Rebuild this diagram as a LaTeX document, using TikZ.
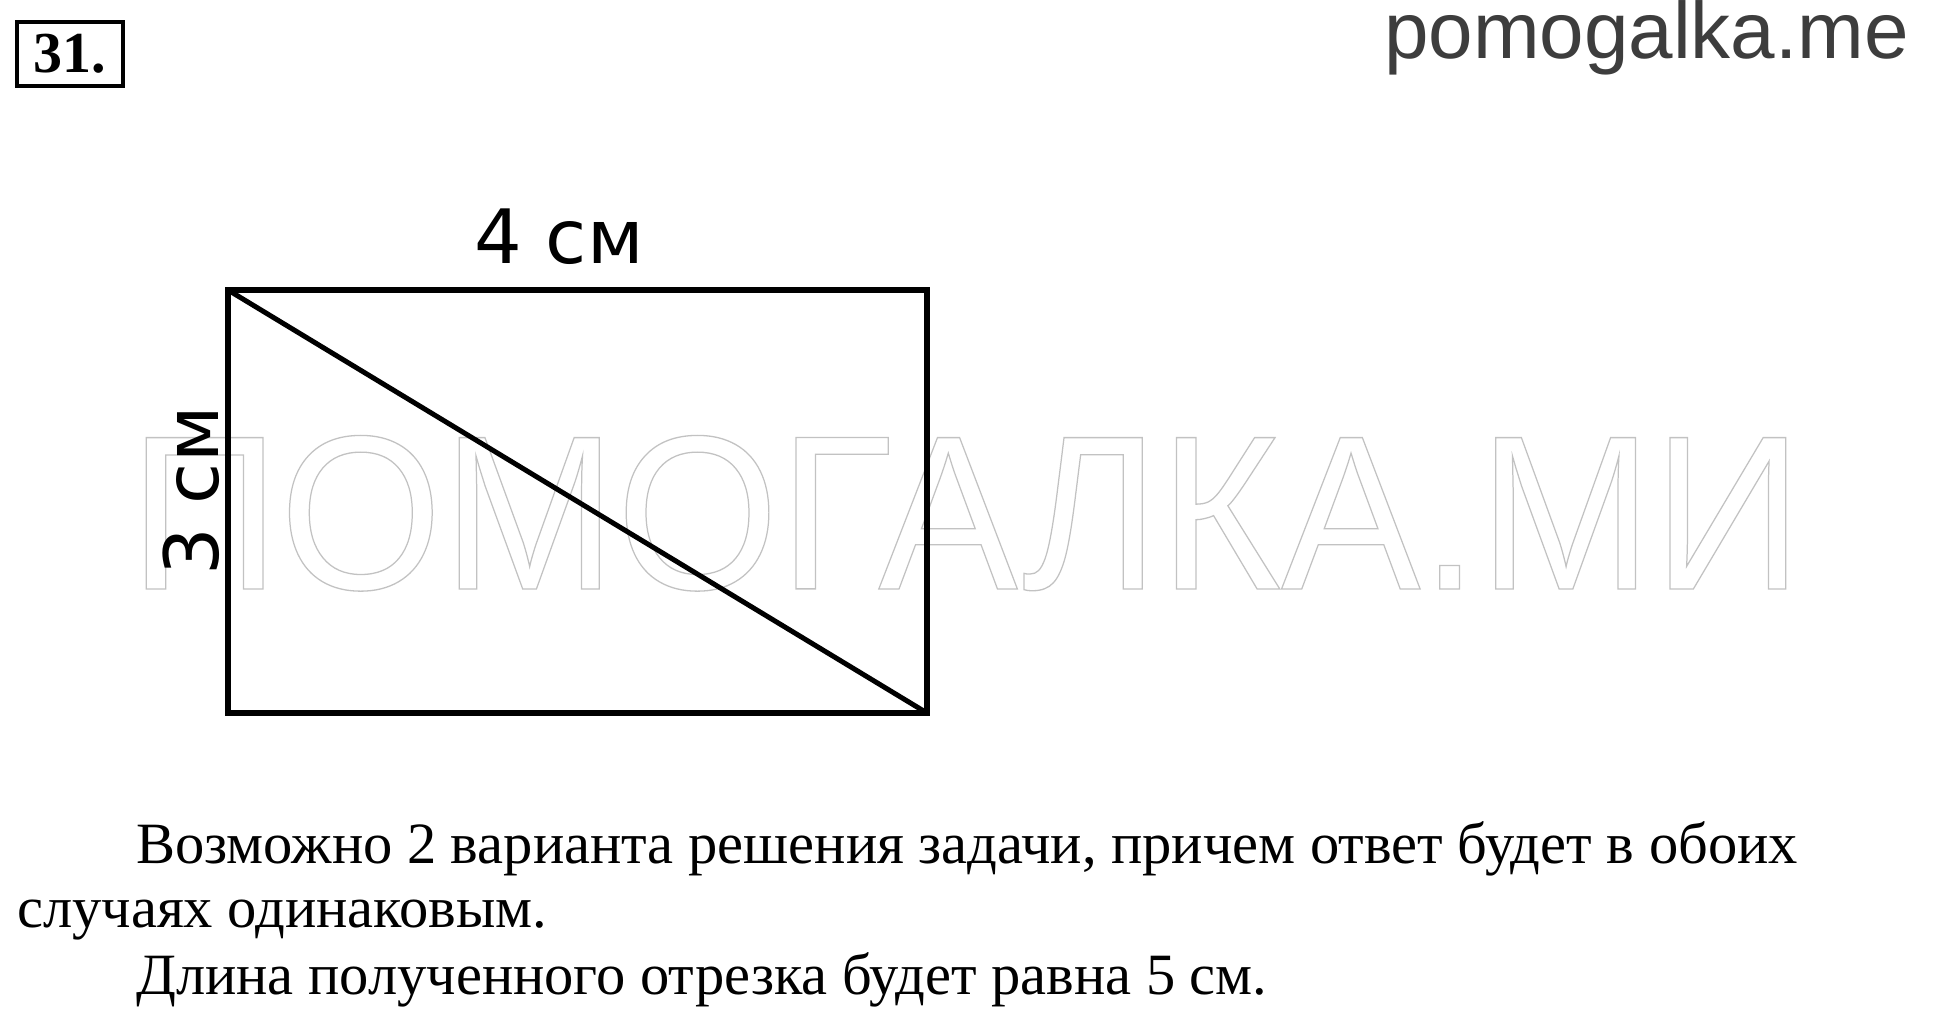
\documentclass[tikz,border=0pt]{standalone}
\usepackage{fontspec}
\newfontfamily\labelfont{DejaVu Sans}
\newfontfamily\textru{Liberation Serif}
\newfontfamily\sitefont{Liberation Sans}
\definecolor{sitegray}{HTML}{3D3D3D}
\newcommand{\outlinetext}[1]{\special{pdf:code q 1 Tr 0.76 0.76 0.76 RG 1.3 w}#1\special{pdf:code Q}}
\begin{document}
\begin{tikzpicture}[x=1pt,y=-1pt]
\tikzstyle{every node}+=[inner sep=0pt]
\tikzstyle{side}=[black, line width=6pt, line join=miter]
\tikzstyle{dim}=[font=\labelfont\fontsize{75}{75}\selectfont, anchor=base]
\tikzstyle{para}=[font=\textru\fontsize{58.5}{65}\selectfont, anchor=base west]
\useasboundingbox (0,0) rectangle (1933,1029);
\node [draw, line width=4pt, minimum width=106pt, minimum height=64pt, font=\textru\bfseries\fontsize{58}{58}\selectfont] (num) at (70,54) {31.};
\node [anchor=base east, text=sitegray, font=\sitefont\fontsize{80}{80}\selectfont] (site) at (1909,58) {pomogalka.me};
\node [anchor=base, xscale=0.95, font=\sitefont\fontsize{220}{220}\selectfont] (mark) at (966,589) {\outlinetext{ПОМОГАЛКА.МИ}};
\coordinate (A) at (228,290);
\coordinate (B) at (927,290);
\coordinate (C) at (927,713);
\coordinate (D) at (228,713);
\draw [side] (A) -- (B) -- (C) -- (D) -- cycle;
\draw [black, line width=5pt] (A) -- (C);
\node [dim] (top) at (559,263) {4 см};
\node [dim, rotate=90] (left) at (218,491) {3 см};
\node [para] (l1) at (136,863) {Возможно 2 варианта решения задачи, причем ответ будет в обоих};
\node [para] (l2) at (17,927) {случаях одинаковым.};
\node [para] (l3) at (136,994) {Длина полученного отрезка будет равна 5 см.};
\end{tikzpicture}
\end{document}
